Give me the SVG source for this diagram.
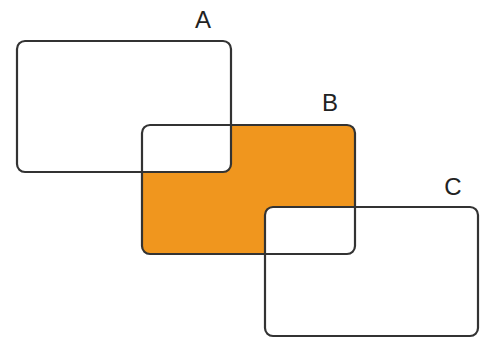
<svg xmlns="http://www.w3.org/2000/svg" width="483" height="338" viewBox="0 0 483 338">
<style>
.fill-b{fill:#F0961E;stroke:none}
.fill-w{fill:#ffffff;stroke:none}
.edge{fill:none;stroke:#333333;stroke-width:2.2}
.lbl{font-family:"Liberation Sans",Arial,sans-serif;font-size:24px;fill:#222222}
</style>
<rect width="483" height="338" fill="#ffffff"/>
<g id="fills">
<rect class="fill-b" x="142" y="125" width="213" height="129" rx="8"/>
<rect class="fill-w" x="17" y="41" width="214" height="131" rx="8"/>
<rect class="fill-w" x="265" y="207" width="213" height="129" rx="8"/>
</g>
<g id="A">
<rect class="edge" x="17" y="41" width="214" height="131" rx="8"/>
<text class="lbl" x="203" y="28" text-anchor="middle">A</text>
</g>
<g id="B">
<rect class="edge" x="142" y="125" width="213" height="129" rx="8"/>
<text class="lbl" x="330" y="111" text-anchor="middle">B</text>
</g>
<g id="C">
<rect class="edge" x="265" y="207" width="213" height="129" rx="8"/>
<text class="lbl" x="453" y="195" text-anchor="middle">C</text>
</g>
<g id="connectors"></g>
</svg>
